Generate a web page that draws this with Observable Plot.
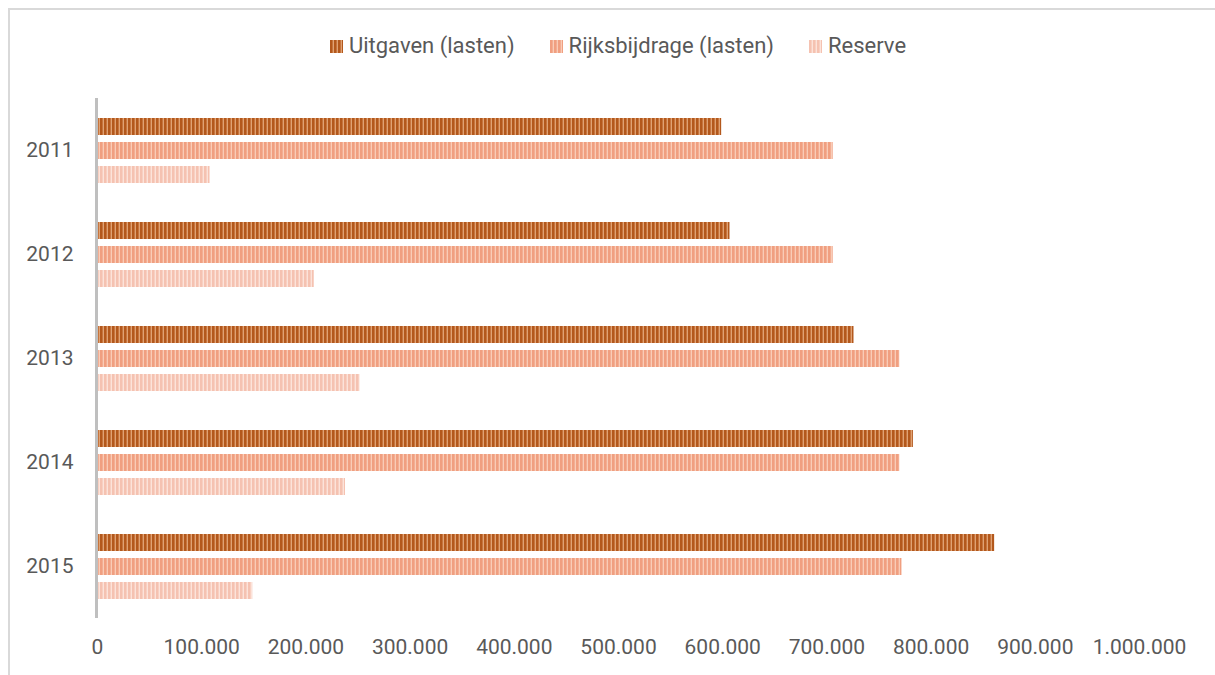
<!DOCTYPE html>
<html>
<head>
<meta charset="utf-8">
<script src="https://cdn.jsdelivr.net/npm/d3@7"></script>
<script src="https://cdn.jsdelivr.net/npm/@observablehq/plot@0.6"></script>
<style>
  html, body { margin: 0; padding: 0; background: #fff; overflow: hidden; }
  #wrap { position: relative; width: 1215px; height: 675px; font-family: Roboto, sans-serif; color: #595959; }
  #frame { position: absolute; left: 8px; top: 8px; width: 1240px; height: 700px; border: 2px solid #D9D9D9; box-sizing: border-box; }
  #legend { position: absolute; left: 97px; width: 1042px; top: 31px; display: flex; justify-content: center; gap: 35px; font-size: 22px; line-height: 30px; }
  .item { display: flex; align-items: center; }
  .sw { width: 13px; height: 13px; margin-right: 6px; }
  #chart { position: absolute; left: 0; top: 0; }
</style>
</head>
<body>
<div id="wrap">
  <div id="frame"></div>
  <div id="chart"></div>
  <div id="legend"></div>
</div>
<script>
const years = ["2011", "2012", "2013", "2014", "2015"];
const seriesNames = ["Uitgaven (lasten)", "Rijksbijdrage (lasten)", "Reserve"];
const uitgaven = [599000, 607000, 726000, 783000, 861000];
const rijksbijdrage = [706000, 706000, 770000, 770000, 772000];
const reserve = [108000, 208000, 252000, 238000, 149000];
const xTickValues = [0, 100000, 200000, 300000, 400000, 500000, 600000, 700000, 800000, 900000, 1000000];

const seriesValues = [uitgaven, rijksbijdrage, reserve];
const patternColors = [
  {dark: "#B3581C", mid: "#C7753E", light: "#DFA274"},
  {dark: "#F09F80", mid: "#F3AE93", light: "#F9CCB7"},
  {dark: "#F5C2B1", mid: "#F8D0C2", light: "#FCE3DA"}
];
const patternIds = ["pat0", "pat1", "pat2"];

const table = [];
years.forEach((y, i) => {
  seriesNames.forEach((s, j) => {
    table.push({year: y, series: s, value: seriesValues[j][i]});
  });
});

const nl = d3.formatLocale({decimal: ",", thousands: ".", grouping: [3], currency: ["€", ""]});
const fmt = nl.format(",d");

const chart = Plot.plot({
  width: 1215,
  height: 675,
  marginTop: 98,
  marginBottom: 57,
  marginLeft: 97,
  marginRight: 76,
  style: {fontFamily: "Roboto, sans-serif", fontSize: "21px", color: "#595959", background: "transparent"},
  x: {domain: [0, 1000000], ticks: xTickValues, tickFormat: fmt, tickSize: 0, tickPadding: 21, label: null},
  y: {domain: seriesNames, axis: null, paddingInner: 0.306, paddingOuter: 0.776},
  fy: {domain: years, padding: 0, tickSize: 0, tickPadding: 24, label: null, axis: "left"},
  color: {domain: seriesNames, range: patternIds.map(id => `url(#${id})`)},
  marks: [
    Plot.barX(table, {x: "value", y: "series", fy: "year", fill: "series"}),
    Plot.ruleX([0], {stroke: "#BFBFBF", strokeWidth: 3, dx: -1})
  ]
});

// add stripe patterns
const svgNS = "http://www.w3.org/2000/svg";
const defs = document.createElementNS(svgNS, "defs");
patternColors.forEach((c, i) => {
  const p = document.createElementNS(svgNS, "pattern");
  p.setAttribute("id", patternIds[i]);
  p.setAttribute("patternUnits", "userSpaceOnUse");
  p.setAttribute("width", "4");
  p.setAttribute("height", "10");
  const rects = [
    {x: 0, w: 4, f: c.mid},
    {x: 0, w: 2, f: c.dark},
    {x: 3, w: 1, f: c.light}
  ];
  rects.forEach(r => {
    const rect = document.createElementNS(svgNS, "rect");
    rect.setAttribute("x", r.x);
    rect.setAttribute("y", 0);
    rect.setAttribute("width", r.w);
    rect.setAttribute("height", 10);
    rect.setAttribute("fill", r.f);
    p.appendChild(rect);
  });
  defs.appendChild(p);
});
chart.insertBefore(defs, chart.firstChild);
document.getElementById("chart").appendChild(chart);

// legend
const legend = document.getElementById("legend");
seriesNames.forEach((s, i) => {
  const c = patternColors[i];
  const item = document.createElement("div");
  item.className = "item";
  const sw = document.createElement("div");
  sw.className = "sw";
  sw.style.background = `repeating-linear-gradient(90deg, ${c.dark} 0px, ${c.dark} 2px, ${c.mid} 2px, ${c.mid} 3px, ${c.light} 3px, ${c.light} 4px)`;
  const t = document.createElement("span");
  t.textContent = s;
  item.appendChild(sw);
  item.appendChild(t);
  legend.appendChild(item);
});
</script>
</body>
</html>
